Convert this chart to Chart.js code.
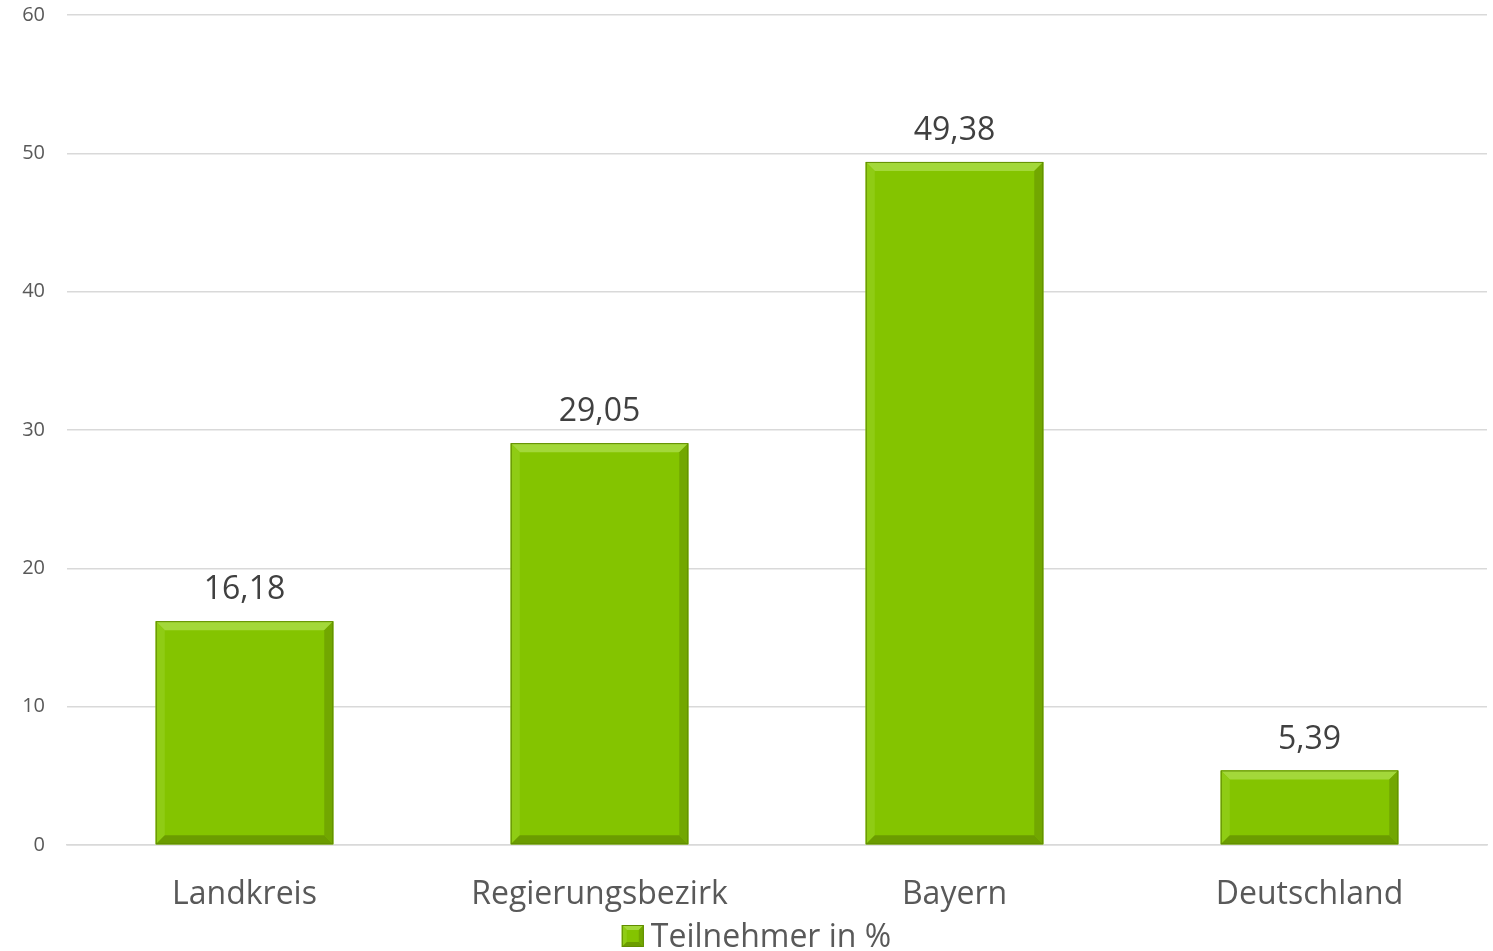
<!DOCTYPE html>
<html lang="de">
<head>
    <meta charset="UTF-8">
    <title>Teilnehmer in %</title>
    <style>
        body {
            margin: 0;
            padding: 0;
            background: #ffffff;
        }
        .chart-box {
            position: relative;
            width: 1493px;
            height: 951px;
        }
    </style>
</head>
<body>
    <div class="chart-box">
        <canvas id="chart"></canvas>
    </div>

    <script src="https://cdn.jsdelivr.net/npm/chart.js"></script>
    <script>
        // chart data
        const categories = ['Landkreis', 'Regierungsbezirk', 'Bayern', 'Deutschland'];
        const seriesName = 'Teilnehmer in %';
        const participants = [16.18, 29.05, 49.38, 5.39];
        const yTicks = [0, 10, 20, 30, 40, 50, 60];

        const fontFamily = "'Open Sans', 'Noto Sans', sans-serif";
        const barGreen = '#84c400';

        function formatDe(v) {
            return v.toFixed(2).replace('.', ',');
        }

        // beveled box, used for bars and the legend key
        function drawBevel(ctx, l, t, r, b, size) {
            const s = Math.min(size, (b - t) / 3, (r - l) / 3);
            const face = (pts, color) => {
                ctx.beginPath();
                ctx.moveTo(pts[0][0], pts[0][1]);
                pts.slice(1).forEach(p => ctx.lineTo(p[0], p[1]));
                ctx.closePath();
                ctx.fillStyle = color;
                ctx.fill();
            };
            ctx.save();
            face([[l, t], [r, t], [r, b], [l, b]], barGreen);
            face([[l, t], [r, t], [r - s, t + s], [l + s, t + s]], '#a3d83a');
            face([[l, t], [l + s, t + s], [l + s, b - s], [l, b]], '#8fcc14');
            face([[r, t], [r, b], [r - s, b - s], [r - s, t + s]], '#72a700');
            face([[l, b], [l + s, b - s], [r - s, b - s], [r, b]], '#6b9c00');
            ctx.strokeStyle = '#618c00';
            ctx.lineWidth = 1;
            ctx.strokeRect(l + 0.5, t + 0.5, r - l - 1, b - t - 1);
            ctx.restore();
        }

        const bevelPlugin = {
            id: 'bevel',
            afterDatasetsDraw(chart) {
                chart.getDatasetMeta(0).data.forEach(bar => {
                    drawBevel(chart.ctx, bar.x - bar.width / 2, bar.y,
                        bar.x + bar.width / 2, bar.base, 9);
                });
            }
        };

        // value labels above bars + legend at the bottom
        const labelPlugin = {
            id: 'labels',
            afterDraw(chart) {
                const ctx = chart.ctx;
                ctx.save();
                ctx.font = '32px ' + fontFamily;
                ctx.fillStyle = '#404040';
                ctx.textAlign = 'center';
                ctx.textBaseline = 'middle';
                chart.getDatasetMeta(0).data.forEach((bar, i) => {
                    ctx.fillText(formatDe(participants[i]), bar.x, bar.y - 31);
                });

                // legend
                ctx.textAlign = 'left';
                const tw = ctx.measureText(seriesName).width;
                const box = 22, gap = 7;
                const startX = chart.width / 2 + 10 - (box + gap + tw) / 2;
                const cy = chart.height - 15;
                drawBevel(ctx, startX, cy - box / 2, startX + box, cy + box / 2, 5);
                ctx.fillStyle = '#595959';
                ctx.fillText(seriesName, startX + box + gap, cy + 2);
                ctx.restore();
            }
        };

        const ctx = document.getElementById('chart').getContext('2d');
        new Chart(ctx, {
            type: 'bar',
            data: {
                labels: categories,
                datasets: [{
                    label: seriesName,
                    data: participants,
                    backgroundColor: barGreen,
                    borderWidth: 0,
                    categoryPercentage: 1,
                    barPercentage: 0.5
                }]
            },
            options: {
                responsive: true,
                maintainAspectRatio: false,
                animation: false,
                layout: {
                    padding: { top: 15, right: 6, bottom: 36, left: 0 }
                },
                plugins: {
                    tooltip: { enabled: false },
                    legend: { display: false }
                },
                scales: {
                    x: {
                        afterFit(scale) { scale.height = 70; },
                        grid: { display: false, drawTicks: false },
                        border: { color: '#d9d9d9', width: 1.5 },
                        ticks: {
                            color: '#595959',
                            padding: 31,
                            font: { family: fontFamily, size: 32 }
                        }
                    },
                    y: {
                        min: 0,
                        max: 60,
                        afterFit(scale) {
                            scale.width = 67;
                            scale.paddingTop = 0;
                            scale.paddingBottom = 0;
                        },
                        afterBuildTicks(scale) {
                            scale.ticks = yTicks.map(v => ({ value: v }));
                        },
                        border: { display: false },
                        grid: { color: '#d9d9d9', lineWidth: 1.5, drawTicks: false },
                        ticks: {
                            color: '#595959',
                            padding: 22,
                            font: { family: fontFamily, size: 20 }
                        }
                    }
                }
            },
            plugins: [bevelPlugin, labelPlugin]
        });
    </script>
</body>
</html>
